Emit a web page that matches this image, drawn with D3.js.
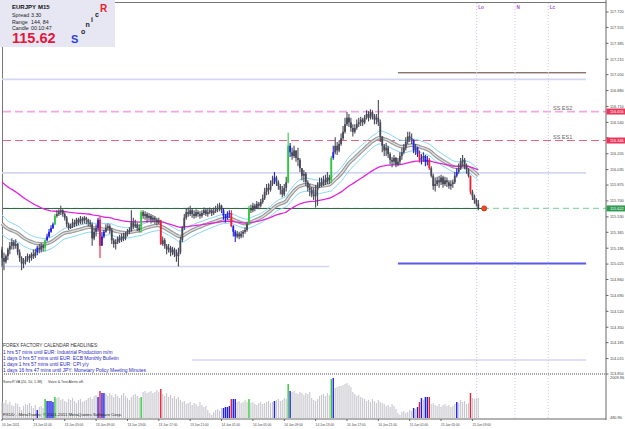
<!DOCTYPE html>
<html>
<head>
<meta charset="utf-8">
<script src="https://cdn.jsdelivr.net/npm/d3@7"></script>
<style>
body{margin:0;background:#fff;}
svg{display:block;font-family:"Liberation Sans",Arial,sans-serif;}
</style>
</head>
<body>
<div id="chart"></div>
<script>
// ---- data: EURJPY M15, one entry per bar (10 Jun 21:00 .. 15 Jun 09:45)
var firstOpen = 115.18;
var closes = [
 115.09,115.05,115.11,115.18,115.22,115.26,115.22,115.24,115.15,115.09,
 115.03,115.05,115.07,115.11,115.09,115.13,115.11,115.15,115.20,115.18,
 115.22,115.20,115.28,115.32,115.37,115.41,115.45,115.54,115.56,115.58,
 115.60,115.56,115.52,115.45,115.41,115.43,115.47,115.45,115.50,115.47,
 115.51,115.49,115.52,115.50,115.47,115.45,115.30,115.37,115.41,115.50,
 115.22,115.32,115.37,115.41,115.43,115.39,115.28,115.24,115.26,115.30,
 115.28,115.32,115.30,115.35,115.37,115.39,115.47,115.43,115.45,115.41,
 115.39,115.58,115.54,115.56,115.52,115.54,115.50,115.52,115.50,115.47,
 115.49,115.24,115.28,115.22,115.18,115.20,115.15,115.18,115.13,115.11,
 115.15,115.28,115.41,115.52,115.58,115.56,115.60,115.56,115.54,115.58,
 115.56,115.54,115.57,115.60,115.56,115.58,115.60,115.57,115.59,115.61,
 115.62,115.65,115.60,115.54,115.52,115.56,115.57,115.43,115.37,115.32,
 115.35,115.32,115.35,115.37,115.39,115.45,115.62,115.60,115.65,115.62,
 115.67,115.65,115.69,115.73,115.80,115.84,115.82,115.88,115.92,115.95,
 115.90,115.86,115.82,115.77,115.84,115.90,116.29,116.22,116.18,116.24,
 116.16,116.14,116.05,115.97,115.99,115.90,115.84,115.82,115.77,115.75,
 115.82,115.86,115.90,115.88,115.92,115.90,115.95,115.92,116.16,116.22,
 116.29,116.24,116.31,116.37,116.44,116.52,116.59,116.54,116.48,116.44,
 116.48,116.52,116.54,116.57,116.54,116.59,116.63,116.59,116.65,116.61,
 116.57,116.59,116.54,116.39,116.29,116.24,116.27,116.20,116.14,116.12,
 116.16,116.09,116.12,116.18,116.22,116.27,116.33,116.39,116.37,116.35,
 116.24,116.27,116.20,116.14,116.16,116.18,116.12,116.14,116.05,115.97,
 115.86,115.88,115.92,115.90,115.95,115.88,115.92,115.90,115.86,115.88,
 115.90,115.97,116.01,116.05,116.12,116.14,116.07,116.03,115.97,115.80,
 115.75,115.71,115.67,115.62];
var highs = [
 115.21,115.15,115.13,115.20,115.26,115.30,115.28,115.29,115.25,115.18,
 115.11,115.09,115.11,115.14,115.13,115.15,115.18,115.19,115.22,115.24,
 115.25,115.24,115.29,115.35,115.40,115.44,115.47,115.56,115.60,115.61,
 115.65,115.61,115.58,115.54,115.47,115.46,115.51,115.50,115.52,115.52,
 115.54,115.53,115.54,115.53,115.51,115.50,115.47,115.41,115.45,115.52,
 115.53,115.37,115.39,115.45,115.46,115.45,115.41,115.30,115.29,115.32,
 115.34,115.35,115.36,115.37,115.40,115.42,115.60,115.52,115.50,115.47,
 115.45,115.60,115.60,115.59,115.58,115.57,115.56,115.55,115.54,115.52,
 115.52,115.50,115.32,115.30,115.24,115.24,115.22,115.21,115.20,115.18,
 115.20,115.32,115.43,115.56,115.62,115.63,115.65,115.62,115.60,115.61,
 115.60,115.59,115.60,115.63,115.62,115.62,115.63,115.62,115.63,115.65,
 115.67,115.68,115.66,115.62,115.56,115.59,115.60,115.60,115.44,115.39,
 115.38,115.37,115.38,115.39,115.42,115.47,115.65,115.66,115.68,115.67,
 115.70,115.69,115.72,115.77,115.84,115.88,115.89,115.92,115.97,116.01,
 115.97,115.92,115.88,115.86,115.88,115.96,116.43,116.32,116.27,116.29,
 116.24,116.27,116.16,116.05,116.03,116.01,115.92,115.88,115.85,115.84,
 115.87,115.90,115.95,115.95,115.97,115.98,116.01,115.98,116.18,116.29,
 116.38,116.33,116.35,116.42,116.50,116.59,116.65,116.63,116.59,116.52,
 116.52,116.57,116.59,116.60,116.59,116.62,116.67,116.66,116.68,116.67,
 116.63,116.63,116.78,116.57,116.39,116.31,116.32,116.29,116.22,116.17,
 116.19,116.17,116.16,116.22,116.27,116.31,116.38,116.44,116.44,116.42,
 116.36,116.31,116.28,116.24,116.20,116.22,116.19,116.18,116.16,116.07,
 115.99,115.95,115.96,115.97,115.98,115.97,115.96,115.95,115.92,115.92,
 115.93,116.01,116.05,116.10,116.16,116.19,116.16,116.10,116.05,115.97,
 115.82,115.77,115.73,115.71];
var lows = [
 114.99,114.96,115.03,115.07,115.13,115.18,115.18,115.19,115.12,115.05,
 114.96,114.98,115.02,115.05,115.04,115.06,115.08,115.09,115.12,115.14,
 115.15,115.16,115.16,115.27,115.31,115.36,115.40,115.44,115.52,115.54,
 115.55,115.53,115.49,115.42,115.39,115.40,115.41,115.42,115.43,115.44,
 115.45,115.45,115.46,115.45,115.43,115.42,115.22,115.28,115.32,115.37,
 115.09,115.28,115.30,115.36,115.39,115.35,115.24,115.20,115.18,115.24,
 115.25,115.26,115.27,115.28,115.32,115.35,115.37,115.40,115.41,115.38,
 115.37,115.36,115.51,115.50,115.47,115.49,115.46,115.47,115.45,115.44,
 115.45,115.23,115.22,115.19,115.13,115.15,115.11,115.12,115.10,115.05,
 115.00,115.13,115.26,115.39,115.50,115.53,115.54,115.52,115.51,115.52,
 115.53,115.51,115.52,115.55,115.54,115.53,115.56,115.54,115.55,115.57,
 115.58,115.59,115.57,115.50,115.47,115.50,115.52,115.42,115.32,115.26,
 115.30,115.29,115.30,115.31,115.35,115.37,115.44,115.57,115.58,115.59,
 115.61,115.61,115.63,115.67,115.71,115.76,115.77,115.80,115.86,115.88,
 115.86,115.82,115.77,115.74,115.75,115.80,115.89,116.17,116.14,116.16,
 116.12,116.07,116.01,115.92,115.90,115.86,115.80,115.75,115.74,115.71,
 115.63,115.65,115.84,115.85,115.86,115.87,115.88,115.88,115.89,116.14,
 116.20,116.19,116.22,116.29,116.35,116.42,116.50,116.49,116.44,116.39,
 116.42,116.46,116.49,116.50,116.50,116.52,116.57,116.55,116.57,116.57,
 116.52,116.52,116.50,116.33,116.22,116.18,116.18,116.16,116.09,116.06,
 116.09,116.06,116.07,116.09,116.14,116.20,116.24,116.31,116.33,116.31,
 116.21,116.19,116.17,116.11,116.09,116.12,116.07,116.08,116.03,115.95,
 115.82,115.80,115.86,115.84,115.87,115.84,115.86,115.85,115.83,115.82,
 115.84,115.88,115.95,115.99,116.03,116.07,116.04,115.99,115.95,115.77,
 115.71,115.67,115.64,115.60];
var volumes = [
 1092,1054,1169,1016,1092,978,939,1054,1016,901,
 787,939,1016,978,1054,939,863,978,787,901,
 939,863,1207,1130,1130,1130,1092,1283,1245,1283,
 1169,1207,1130,1092,1207,1169,1245,1130,1054,1169,
 1207,1092,1130,1169,1245,1283,1207,1321,1360,1283,
 1512,1436,1436,1398,1321,1436,1360,1283,1398,1321,
 1245,1360,1436,1321,1245,1169,1283,1360,1398,1321,
 1245,1283,1474,1512,1436,1474,1512,1436,1474,1551,
 1474,1589,1398,1321,1436,1283,1360,1245,1321,1207,
 1283,1169,1092,1130,1016,1054,1092,978,1054,1016,
 939,1092,978,901,939,787,672,596,710,787,
 825,748,863,863,901,901,939,1207,1207,1207,
 1092,1130,1054,1092,1169,1092,1207,1054,1092,1016,
 978,1054,1092,1016,1054,1092,1130,1054,1092,1130,
 1169,1207,1130,1169,1245,1207,1780,1512,1474,1512,
 1436,1398,1474,1436,1360,1436,1398,1474,1245,1169,
 1130,1207,1321,1360,1398,1321,1436,1360,1971,2009.96,
 1627,1665,1703,1703,1742,1780,1818,1742,1665,1474,
 1398,1321,1360,1283,1245,1207,1130,1169,1092,1207,
 1130,1054,1169,1092,1054,1016,939,978,901,1016,
 939,825,672,596,710,748,672,710,787,748,
 863,825,901,1092,1245,1169,1283,1283,1283,1016,
 1054,978,939,1016,901,978,1016,939,978,901,
 939,1016,1092,1054,1169,1092,1130,1016,1054,1436,
 1245,1207,1245,1245];
// bars painted by the volume-analysis indicator
var greenBars = [22,27,71,126,146,168];
var blueBars = [18,23,24,25,26,49,51,52,113,114,115,116,118,119,139,147,169,210,212,214,216,217,232];
var redBars = [50,81,117,213,218,239];

var timeLabels = ["10 Jun 2011","13 Jun 01:00","13 Jun 05:00","13 Jun 09:00","13 Jun 13:00","13 Jun 17:00",
  "13 Jun 21:00","14 Jun 01:00","14 Jun 05:00","14 Jun 09:00","14 Jun 13:00","14 Jun 17:00",
  "14 Jun 21:00","15 Jun 01:00","15 Jun 05:00","15 Jun 09:00"];
var timeLabelBars = [0,16,32,48,64,80,96,112,128,144,160,176,192,208,224,240];
var priceTicks = [117.720,117.555,117.385,117.215,117.050,116.880,116.710,116.540,116.375,116.205,
  116.035,115.870,115.700,115.530,115.365,115.195,115.025,114.860,114.690,114.520,114.350,114.185,114.015,113.850];

var roundLevels = [117.00,116.00,115.00,114.00];
var roundFrom = [0,0,0,97];
var roundTo = [298,298,167,298];
var dayHigh = 117.07, dayLow = 115.03, dayStart = 202, levelEnd = 298;
var es2 = 116.656, es1 = 116.346;
var bid = 115.62, bidLabel = "115.622", es2Label = "116.656", es1Label = "116.346";
var markerBar = 246;
var sessions = ["Lo","N","Lc"];
var sessionBars = [242.2,261.7,278.7];
var volMin = 480.96, volMax = 2009.96;
var headlines = ["1 hrs 57 mins until EUR: Industrial Production m/m",
  "1 days 0 hrs 57 mins until EUR: ECB Monthly Bulletin",
  "1 days 1 hrs 57 mins until EUR: CPI y/y",
  "1 days 16 hrs 47 mins until JPY: Monetary Policy Meeting Minutes"];
// EMA starting values read at the left edge
var seedClose = 115.48, seedHigh = 115.57, seedLow = 115.37, seedTrend = 115.92;

// ---- drawing
var W = 625, H = 429;
var svg = d3.select("#chart").append("svg").attr("width", W).attr("height", H);

var x = d3.scaleLinear().domain([0, 243]).range([2, 478.3]);
var y = d3.scaleLinear().domain([113.85, 117.72]).range([374, 12]);
var vy = d3.scaleLinear().domain([volMin, volMax]).range([418, 378]);
var axisX = 606;

function ema(vals, period, seed) {
  var k = 2 / (period + 1), p = seed;
  return vals.map(function(v){ p = p + k * (v - p); return p; });
}
function barColor(i) {
  if (greenBars.indexOf(i) >= 0) return "#2ec83c";
  if (blueBars.indexOf(i) >= 0) return "#1f1fe6";
  if (redBars.indexOf(i) >= 0) return "#ea2035";
  return null;
}

// frame
svg.append("line").attr("x1", 2).attr("x2", axisX).attr("y1", 2.5).attr("y2", 2.5).attr("stroke", "#777");
svg.append("line").attr("x1", 2.5).attr("x2", 2.5).attr("y1", 2).attr("y2", 419).attr("stroke", "#777");

// round number levels
var g = svg.append("g");
roundLevels.forEach(function(p, k){
  g.append("line").attr("x1", x(roundFrom[k])).attr("x2", x(roundTo[k]))
    .attr("y1", y(p)).attr("y2", y(p)).attr("stroke", "#d4d6f2").attr("stroke-width", 1.6);
});
// daily range lines
g.append("line").attr("x1", x(dayStart)).attr("x2", x(levelEnd)).attr("y1", y(dayHigh)).attr("y2", y(dayHigh))
  .attr("stroke", "#5a3a3a").attr("stroke-width", 1);
g.append("line").attr("x1", x(dayStart)).attr("x2", x(levelEnd)).attr("y1", y(dayLow)).attr("y2", y(dayLow))
  .attr("stroke", "#5a5ae6").attr("stroke-width", 2);
// ES lines
g.append("line").attr("x1", 3).attr("x2", axisX).attr("y1", y(es2)).attr("y2", y(es2))
  .attr("stroke", "#f2a8dc").attr("stroke-width", 1.8).attr("stroke-dasharray", "8,4");
g.append("line").attr("x1", 3).attr("x2", axisX).attr("y1", y(es1)).attr("y2", y(es1))
  .attr("stroke", "#e8647e").attr("stroke-width", 1.2).attr("stroke-dasharray", "8,4");
g.append("text").attr("x", 553).attr("y", y(es2) - 2).attr("font-size", 5.5).attr("fill", "#666").text("SS ES2");
g.append("text").attr("x", 553).attr("y", y(es1) - 2).attr("font-size", 5.5).attr("fill", "#666").text("SS ES1");
// bid line
g.append("line").attr("x1", 3).attr("x2", axisX).attr("y1", y(bid)).attr("y2", y(bid))
  .attr("stroke", "#8ed8ae").attr("stroke-width", 1.2).attr("stroke-dasharray", "6,4");
g.append("line").attr("x1", 3).attr("x2", x(markerBar)).attr("y1", y(bid)).attr("y2", y(bid))
  .attr("stroke", "#2f6a45").attr("stroke-width", 1.1);

// session markers
sessions.forEach(function(s, k){
  var sx = x(sessionBars[k]);
  g.append("line").attr("x1", sx).attr("x2", sx).attr("y1", 3).attr("y2", 419)
    .attr("stroke", "#d6bdea").attr("stroke-dasharray", "1,2");
  g.append("text").attr("x", sx + 1.5).attr("y", 9).attr("font-size", 4.6).attr("font-weight", "bold")
    .attr("fill", "#9a4fd0").text(s);
});

// Sonic R dragon + trend
var line = d3.line().x(function(d, i){ return x(i); }).y(function(d){ return y(d); });
var emaH = ema(highs, 34, seedHigh), emaL = ema(lows, 34, seedLow), emaC = ema(closes, 34, seedClose);
var emaT = ema(closes, 89, seedTrend);
g.append("path").attr("d", line(emaH)).attr("fill", "none").attr("stroke", "#86d4f4").attr("stroke-width", 1);
g.append("path").attr("d", line(emaL)).attr("fill", "none").attr("stroke", "#86d4f4").attr("stroke-width", 1);
g.append("path").attr("d", line(emaC)).attr("fill", "none").attr("stroke", "#9b9b9b").attr("stroke-width", 3.6);
g.append("path").attr("d", line(emaC)).attr("fill", "none").attr("stroke", "#e4e4e4").attr("stroke-width", 1.2);
g.append("path").attr("d", line(emaT)).attr("fill", "none").attr("stroke", "#e024dc").attr("stroke-width", 1.3);

// candles
var bars = closes.map(function(c, i){
  return {i: i, o: i === 0 ? firstOpen : closes[i - 1], h: highs[i], l: lows[i], c: c, col: barColor(i)};
});
var cg = svg.append("g");
cg.selectAll("line").data(bars).enter().append("line")
  .attr("x1", function(d){ return x(d.i); }).attr("x2", function(d){ return x(d.i); })
  .attr("y1", function(d){ return y(d.h); }).attr("y2", function(d){ return y(d.l); })
  .attr("stroke", function(d){ return d.col || "#474757"; }).attr("stroke-width", 1.1);
cg.selectAll("rect").data(bars).enter().append("rect")
  .attr("x", function(d){ return x(d.i) - 0.9; }).attr("width", 1.8)
  .attr("y", function(d){ return y(Math.max(d.o, d.c)); })
  .attr("height", function(d){ return Math.max(0.8, Math.abs(y(d.o) - y(d.c))); })
  .attr("fill", function(d){ return d.col || "#474757"; });

// current price marker
svg.append("circle").attr("cx", x(markerBar)).attr("cy", y(bid)).attr("r", 2.6)
  .attr("fill", "#ec4a22").attr("stroke", "#a8301a").attr("stroke-width", 0.6);

// forex factory headlines
var ff = svg.append("g").attr("font-size", 4.9);
ff.append("text").attr("x", 3).attr("y", 347).attr("fill", "#333").attr("font-size", 4.7).text("FOREX FACTORY CALENDAR HEADLINES:");
headlines.forEach(function(t, k){
  ff.append("text").attr("x", 3).attr("y", 354 + k * 6).attr("fill", "#2626c4").text(t);
});

// price axis
svg.append("line").attr("x1", axisX).attr("x2", axisX).attr("y1", 0).attr("y2", 420).attr("stroke", "#666");
var ax = svg.append("g").attr("font-size", 3.9).attr("fill", "#444");
var tags = [[es2, es2Label, "#e8365a"], [es1, es1Label, "#e8365a"], [bid, bidLabel, "#2e9a52"]];
priceTicks.forEach(function(p){
  ax.append("line").attr("x1", axisX).attr("x2", axisX + 2.5).attr("y1", y(p)).attr("y2", y(p)).attr("stroke", "#666");
  // a price tag covers the tick label under it
  var hidden = tags.some(function(t){ return Math.abs(y(t[0]) - y(p)) < 5; });
  if (!hidden) ax.append("text").attr("x", axisX + 4).attr("y", y(p) + 1.4).text(p.toFixed(3));
});
tags.forEach(function(t){
  ax.append("rect").attr("x", axisX + 0.5).attr("y", y(t[0]) - 3).attr("width", 19).attr("height", 6).attr("fill", t[2]);
  ax.append("text").attr("x", axisX + 4).attr("y", y(t[0]) + 1.4).attr("fill", "#fff").text(t[1]);
});

// indicator panel
svg.append("line").attr("x1", 2).attr("x2", axisX).attr("y1", 374).attr("y2", 374)
  .attr("stroke", "#8a8a8a").attr("stroke-width", 1.6).attr("stroke-dasharray", "1,1");
var vg = svg.append("g");
vg.selectAll("line").data(volumes).enter().append("line")
  .attr("x1", function(d, i){ return x(i); }).attr("x2", function(d, i){ return x(i); })
  .attr("y1", function(d){ return vy(d); }).attr("y2", vy(volMin))
  .attr("stroke", function(d, i){ return barColor(i) || "#c6c6cc"; })
  .attr("stroke-width", function(d, i){ return barColor(i) ? 1.4 : 1.1; });
vg.append("text").attr("x", 3).attr("y", 382.5).attr("font-size", 3.6).attr("fill", "#333").text("SonicR VA (20, 10, 1.38)");
vg.append("text").attr("x", 48).attr("y", 382.5).attr("font-size", 3.6).attr("fill", "#333").text("Voice & Text Alerts off.");
vg.append("text").attr("x", 3).attr("y", 416).attr("font-size", 4.3).attr("fill", "#222")
  .text("FXDD - MetaTrader, \u00a9 2001-2011 MetaQuotes Software Corp.");
ax.append("text").attr("x", axisX + 4).attr("y", vy(volMax) + 1.4).text(volMax.toFixed(2));
ax.append("text").attr("x", axisX + 4).attr("y", vy(volMin) + 1.4).text(volMin.toFixed(2));

// time axis
svg.append("line").attr("x1", 2).attr("x2", axisX).attr("y1", 419).attr("y2", 419).attr("stroke", "#666");
var tg = svg.append("g").attr("font-size", 3.2).attr("fill", "#444");
timeLabels.forEach(function(t, k){
  var tx = x(timeLabelBars[k]);
  tg.append("line").attr("x1", tx).attr("x2", tx).attr("y1", 419).attr("y2", 421).attr("stroke", "#666");
  tg.append("text").attr("x", tx).attr("y", 425.5).text(t);
});

// info box
var ib = svg.append("g");
ib.append("rect").attr("x", 0).attr("y", 0).attr("width", 115).attr("height", 47).attr("fill", "#e7e7f3");
ib.append("text").attr("x", 12).attr("y", 9).attr("font-size", 6).attr("font-weight", "bold").attr("fill", "#111").text("EURJPY");
ib.append("text").attr("x", 38).attr("y", 9).attr("font-size", 6).attr("font-weight", "bold").attr("fill", "#111").text("M15");
[["Spread","3.30"],["Range","144, 84"],["Candle","00:10:47"]].forEach(function(r, k){
  ib.append("text").attr("x", 12).attr("y", 17 + k * 6.6).attr("font-size", 5.3).attr("fill", "#222").text(r[0]);
  ib.append("text").attr("x", 31).attr("y", 17 + k * 6.6).attr("font-size", 5.3).attr("fill", "#222").text(r[1]);
});
ib.append("text").attr("x", 12).attr("y", 43).attr("font-size", 14.5).attr("font-weight", "bold").attr("fill", "#e3173c").text("115.62");
ib.append("text").attr("x", 71).attr("y", 43).attr("font-size", 11).attr("font-weight", "bold").attr("fill", "#2b3fd6").text("S");
[["o",81,34],["n",85.5,27],["i",91,21.5],["c",95,16.5]].forEach(function(l){
  ib.append("text").attr("x", l[1]).attr("y", l[2]).attr("font-size", 7).attr("font-weight", "bold").attr("fill", "#222").text(l[0]);
});
ib.append("text").attr("x", 100).attr("y", 12).attr("font-size", 10).attr("font-weight", "bold").attr("fill", "#e8202a").text("R");
</script>
</body>
</html>
